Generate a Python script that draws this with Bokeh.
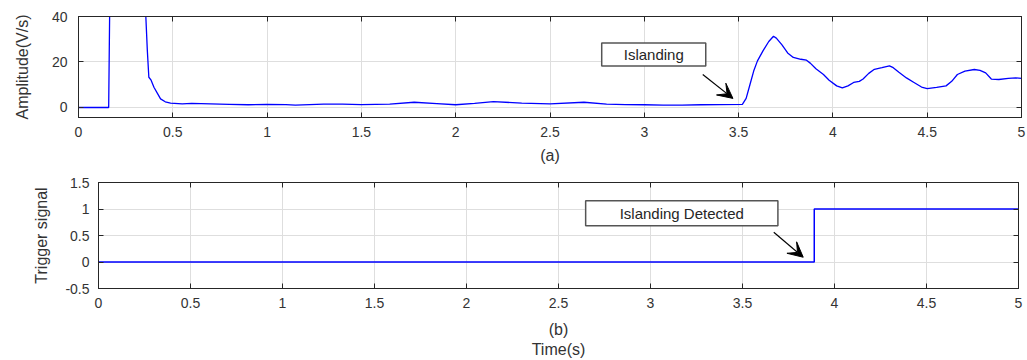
from bokeh.plotting import figure
from bokeh.layouts import column, row
from bokeh.models import Range1d, FixedTicker, LinearAxis, Label, Arrow, VeeHead
from bokeh.embed import file_html
from bokeh.resources import INLINE

# ---------------- data ----------------
time_a = [0.0, 0.16, 0.17, 0.355, 0.357, 0.365, 0.373, 0.385, 0.40, 0.42, 0.435, 0.46, 0.488,
          0.55, 0.6, 0.7, 0.8, 0.9, 1.0, 1.1, 1.15, 1.3, 1.4, 1.5, 1.65, 1.78, 1.9, 2.0, 2.1,
          2.2, 2.35, 2.5, 2.68, 2.8, 2.9, 3.0, 3.1, 3.2, 3.3, 3.4, 3.52,
          3.54, 3.56, 3.58, 3.60, 3.63, 3.66, 3.685, 3.70, 3.73, 3.76, 3.79, 3.83, 3.86, 3.88,
          3.91, 3.95, 3.98, 4.02, 4.05, 4.08, 4.11, 4.14, 4.16, 4.19, 4.22, 4.26, 4.30, 4.32,
          4.35, 4.39, 4.43, 4.47, 4.50, 4.55, 4.60, 4.63, 4.66, 4.70, 4.75, 4.78, 4.81, 4.84,
          4.88, 4.93, 4.97, 5.0]
amp_a = [0.0, 0.0, 80.0, 80.0, 40.0, 25.0, 13.3, 12.0, 8.9, 6.0, 3.8, 2.5, 1.9,
         1.6, 1.8, 1.6, 1.4, 1.2, 1.4, 1.3, 1.0, 1.5, 1.5, 1.3, 1.5, 2.3, 1.7, 1.2, 1.8,
         2.6, 1.9, 1.6, 2.3, 1.5, 1.3, 1.2, 1.0, 1.0, 1.2, 1.3, 1.4,
         4.0, 10.0, 16.0, 20.5, 25.0, 29.0, 31.3, 30.5, 27.5, 24.0, 22.0, 21.2, 20.8, 19.5,
         17.0, 14.5, 12.0, 9.5, 8.6, 9.5, 11.0, 11.5, 12.5, 15.0, 16.8, 17.5, 18.3, 17.5,
         15.5, 13.0, 11.0, 9.0, 8.3, 8.8, 9.5, 11.5, 14.5, 16.0, 16.7, 16.3, 15.2, 12.5,
         12.3, 12.8, 13.0, 12.8]

time_b = [0.0, 3.89, 5.0]
trigger_b = [0, 1, 1]

x_ticks = [0, 0.5, 1, 1.5, 2, 2.5, 3, 3.5, 4, 4.5, 5]
x_tick_labels = ["0", "0.5", "1", "1.5", "2", "2.5", "3", "3.5", "4", "4.5", "5"]
ya_ticks = [0, 20, 40]
ya_tick_labels = ["0", "20", "40"]
yb_ticks = [-0.5, 0, 0.5, 1, 1.5]
yb_tick_labels = ["-0.5", "0", "0.5", "1", "1.5"]

FONT = "Liberation Sans"
DARK = "#262626"
LABEL_COL = "#333333"
GRID = "#dedede"
BLUE = "#0000ff"


def style(p, xt, xl, yt, yl, xlabel, ylabel):
    p.background_fill_color = "white"
    p.border_fill_color = "white"
    p.outline_line_color = DARK
    p.outline_line_width = 1
    xa = p.below[0]
    ya = p.left[0]
    for ax, ticks, labels, lab in ((xa, xt, xl, xlabel), (ya, yt, yl, ylabel)):
        ax.ticker = FixedTicker(ticks=ticks)
        ax.major_label_overrides = {t: l for t, l in zip(ticks, labels)}
        ax.major_tick_in = 5
        ax.major_tick_out = 0
        ax.minor_tick_line_color = None
        ax.axis_line_color = DARK
        ax.major_tick_line_color = DARK
        ax.major_label_text_font = FONT
        ax.major_label_text_font_size = "14px"
        ax.major_label_text_color = LABEL_COL
        ax.axis_label = lab
        ax.axis_label_text_font = FONT
        ax.axis_label_text_font_size = "16px"
        ax.axis_label_text_font_style = "normal"
        ax.axis_label_text_color = LABEL_COL
        ax.axis_label_standoff = 7
        ax.major_label_standoff = 9
    # box ticks on top and right (labels not drawn)
    for loc, ticks in (("above", xt), ("right", yt)):
        a = LinearAxis(ticker=FixedTicker(ticks=ticks))
        a.major_label_text_font_size = "1px"
        a.major_label_text_color = None
        a.major_label_standoff = 0
        a.major_tick_in = 5
        a.major_tick_out = 0
        a.minor_tick_line_color = None
        a.axis_line_color = DARK
        a.major_tick_line_color = DARK
        p.add_layout(a, loc)
    p.xgrid.ticker = FixedTicker(ticks=xt)
    p.ygrid.ticker = FixedTicker(ticks=yt)
    p.xgrid.grid_line_color = GRID
    p.ygrid.grid_line_color = GRID


# ---------------- top panel (a) ----------------
p1 = figure(width=1027, height=170, x_range=Range1d(0, 5), y_range=Range1d(-4.4, 40),
            output_backend="svg", toolbar_location=None,
            min_border_left=78, min_border_right=6, min_border_top=16, min_border_bottom=53)
style(p1, x_ticks, x_tick_labels, ya_ticks, ya_tick_labels, "(a)", "Amplitude(V/s)")
p1.left[0].axis_label_standoff = 18
p1.left[0].major_label_standoff = 11
p1.line(time_a, amp_a, line_color=BLUE, line_width=1.3)

p1.add_layout(Label(x=3.05, y=23.3, text="Islanding", text_align="center", text_baseline="middle",
                    text_font=FONT, text_font_size="15px", text_color=DARK,
                    background_fill_color="white", border_line_color="#555555", border_line_width=1.5,
                    padding=dict(left=22, right=22, top=3, bottom=3)))
p1.add_layout(Arrow(x_start=3.31, y_start=14.5, x_end=3.47, y_end=4.0, line_color="black", line_width=1.2,
                    end=VeeHead(size=15, fill_color="black", line_color="black")))

# ---------------- bottom panel (b) ----------------
p2 = figure(width=1027, height=190, x_range=Range1d(0, 5), y_range=Range1d(-0.5, 1.5),
            output_backend="svg", toolbar_location=None,
            min_border_left=98, min_border_right=9, min_border_top=12, min_border_bottom=71)
style(p2, x_ticks, x_tick_labels, yb_ticks, yb_tick_labels, "(b)\nTime(s)", "Trigger signal")
p2.below[0].axis_label_standoff = 10
p2.left[0].axis_label_standoff = 12
p2.step(time_b, trigger_b, mode="after", line_color=BLUE, line_width=1.5)

p2.add_layout(Label(x=3.17, y=0.92, text="Islanding Detected", text_align="center", text_baseline="middle",
                    text_font=FONT, text_font_size="15px", text_color=DARK,
                    background_fill_color="white", border_line_color="#555555", border_line_width=1.5,
                    padding=dict(left=34, right=34, top=4, bottom=4)))
p2.add_layout(Arrow(x_start=3.67, y_start=0.56, x_end=3.83, y_end=0.09, line_color="black", line_width=1.2,
                    end=VeeHead(size=15, fill_color="black", line_color="black")))

layout = column(row(p1), row(p2))
open("out.html", "w").write(file_html(layout, INLINE))
